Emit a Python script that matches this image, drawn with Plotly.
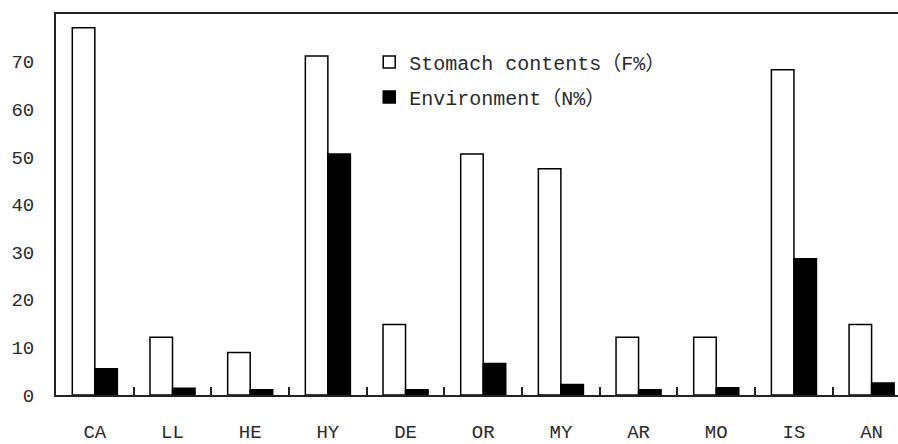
import plotly.graph_objects as go

categories = ["CA", "LL", "HE", "HY", "DE", "OR", "MY", "AR", "MO", "IS", "AN"]
stomach_f = [77.1, 12.1, 8.9, 71.2, 14.8, 50.6, 47.5, 12.1, 12.1, 68.3, 14.8]
environment_n = [5.5, 1.4, 1.1, 50.6, 1.1, 6.6, 2.2, 1.1, 1.5, 28.6, 2.5]
y_ticks = [0, 10, 20, 30, 40, 50, 60, 70]

FONT = "Liberation Mono, Noto Sans CJK SC, monospace"
TXT = "#2a2a2a"

fig = go.Figure()
fig.add_trace(go.Bar(
    x=categories, y=stomach_f, name="Stomach contents（F%）",
    marker=dict(color="white", line=dict(color="black", width=1.5)),
    legendgroup="a",
))
fig.add_trace(go.Bar(
    x=categories, y=environment_n, name="Environment（N%）",
    marker=dict(color="black", line=dict(color="black", width=1.5)),
    legendgroup="b",
))

fig.update_layout(
    width=898, height=444,
    margin=dict(l=56, r=0, t=14, b=45),
    paper_bgcolor="white", plot_bgcolor="white",
    barmode="group", bargap=0.42, bargroupgap=0,
    font=dict(family=FONT, size=20, color=TXT),
    showlegend=True,
    legend=dict(
        x=0.372, y=0.925, xanchor="left", yanchor="top",
        bgcolor="rgba(0,0,0,0)", borderwidth=0,
        font=dict(family=FONT, size=20, color=TXT),
        tracegroupgap=6, itemclick=False,
    ),
    xaxis=dict(
        range=[-0.5, 10.34],
        showline=True, linecolor="#222", linewidth=2, mirror=True,
        ticks="inside", tickson="boundaries", ticklen=8, tickwidth=2, tickcolor="#222",
        showgrid=False, zeroline=False,
        ticklabelstandoff=18,
        tickfont=dict(family=FONT, size=19, color=TXT),
    ),
    yaxis=dict(
        range=[0, 80],
        tickvals=y_ticks,
        showline=True, linecolor="#222", linewidth=2,
        ticks="", showgrid=False, zeroline=False,
        ticklabelstandoff=16,
        tickfont=dict(family=FONT, size=19, color=TXT),
    ),
)

fig.write_html(
    "out.html",
    config={"displayModeBar": False, "staticPlot": True},
    post_script="document.body.style.margin='0px';document.body.style.overflow='hidden';",
)
